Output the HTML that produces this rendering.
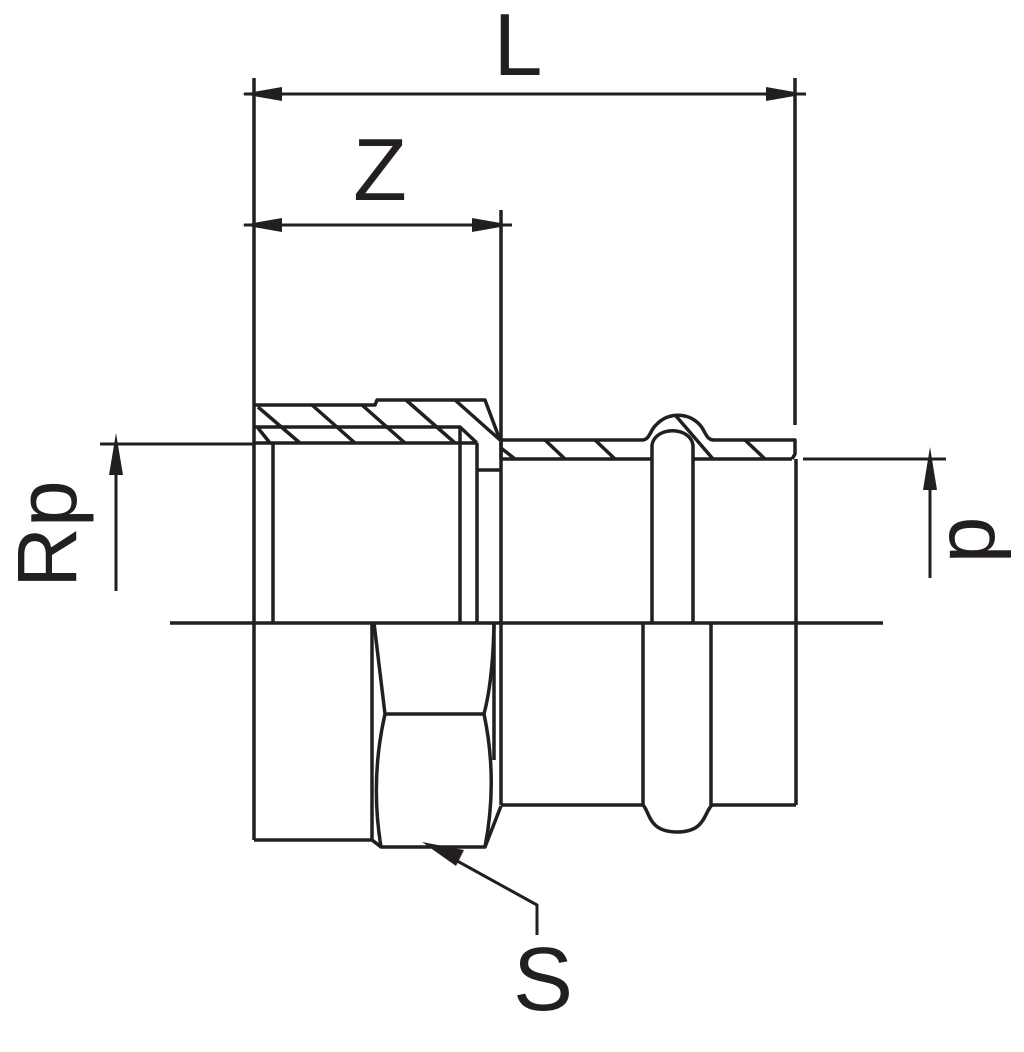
<!DOCTYPE html>
<html><head><meta charset="utf-8"><style>
html,body{margin:0;padding:0;background:#fff;}
svg{display:block;}
text{font-family:"Liberation Sans",sans-serif;fill:#231f20;}
</style></head><body>
<svg width="1024" height="1052" viewBox="0 0 1024 1052" xmlns="http://www.w3.org/2000/svg">
<g stroke="#231f20" stroke-width="3.5" fill="none" stroke-linejoin="round" stroke-linecap="butt">
<line x1="254" y1="78" x2="254" y2="840"/>
<line x1="795" y1="78" x2="795" y2="425"/>
<line x1="244" y1="94" x2="806" y2="94" stroke-width="3"/>
<line x1="501" y1="210" x2="501" y2="460"/>
<line x1="244" y1="225" x2="512" y2="225" stroke-width="3"/>
<line x1="170" y1="623" x2="883" y2="623"/>
<line x1="100" y1="444" x2="254" y2="444" stroke-width="3"/>
<line x1="116" y1="450" x2="116" y2="591" stroke-width="3"/>
<line x1="803" y1="459" x2="946" y2="459" stroke-width="3"/>
<line x1="930" y1="465" x2="930" y2="578" stroke-width="3"/>

<polyline points="254,405 375,405 377,400 485,400 500,440"/>
<polyline points="254,427 460,427 477,443"/>
<line x1="254" y1="443" x2="477" y2="443"/>
<line x1="273" y1="443" x2="273" y2="623"/>
<line x1="460" y1="427" x2="460" y2="623"/>
<line x1="477" y1="443" x2="477" y2="623"/>
<line x1="477" y1="470" x2="501" y2="470"/>
<line x1="258" y1="407" x2="300" y2="443"/>
<line x1="312" y1="405" x2="355" y2="443"/>
<line x1="362" y1="405" x2="405" y2="443"/>
<line x1="406" y1="400" x2="455" y2="443"/>
<line x1="455" y1="400" x2="500" y2="440"/>
<line x1="258" y1="428" x2="270" y2="443"/>
<line x1="501" y1="448" x2="515" y2="459"/>
<line x1="545" y1="440" x2="565" y2="459"/>
<line x1="595" y1="440" x2="615" y2="459"/>
<line x1="676" y1="416" x2="713" y2="459"/>
<line x1="745" y1="440" x2="765" y2="459"/>
<path d="M501,440 L642,440 C650,440 650,430 656,425 C668,412 688,412 700,425 C706,432 706,440 714,440 L795,440 L795,454 L792,459"/>
<path d="M501,459 L652,459 L652,445 C655,426 690,426 693,445 L693,459 L792,459"/>
<line x1="652" y1="459" x2="652" y2="623"/>
<line x1="693" y1="459" x2="693" y2="623"/>
<line x1="796" y1="459" x2="796" y2="805"/>
<line x1="501" y1="440" x2="501" y2="805"/>

<polyline points="254,840 372,840 381,847 485,847 501,806"/>
<line x1="372" y1="623" x2="372" y2="840"/>
<path d="M374,623 L385,714 Q370,780 381,847"/>
<path d="M494,623 Q493,680 484,714 Q498,780 485,847"/>
<line x1="385" y1="714" x2="484" y2="714"/>
<line x1="494" y1="623" x2="494" y2="760"/>
<path d="M501,805 L643,805 C650,812 648,832 677,832 C706,832 704,812 712,805 L796,805"/>
<line x1="643" y1="623" x2="643" y2="805"/>
<line x1="711" y1="623" x2="711" y2="805"/>
<polyline points="450,857 537,905 537,935" stroke-width="3"/>
</g>
<g fill="#231f20" stroke="none">
<polygon points="242,94 282,87 282,101"/>
<polygon points="806,94 766,87 766,101"/>
<polygon points="242,225 282,218 282,232"/>
<polygon points="512,225 472,218 472,232"/>
<polygon points="116,433 109,475 123,475"/>
<polygon points="930,447 923,490 937,490"/>
<polygon points="422,842 464,850 456,866"/>
</g>
<text x="518" y="75" font-size="88" text-anchor="middle">L</text>
<text x="380" y="200" font-size="88" text-anchor="middle">Z</text>
<text x="543" y="1010" font-size="90" text-anchor="middle">S</text>
<text transform="translate(76,534) rotate(-90)" font-size="84" text-anchor="middle">Rp</text>
<text transform="translate(950,540) rotate(90)" font-size="84" text-anchor="middle">d</text>
</svg>
</body></html>
